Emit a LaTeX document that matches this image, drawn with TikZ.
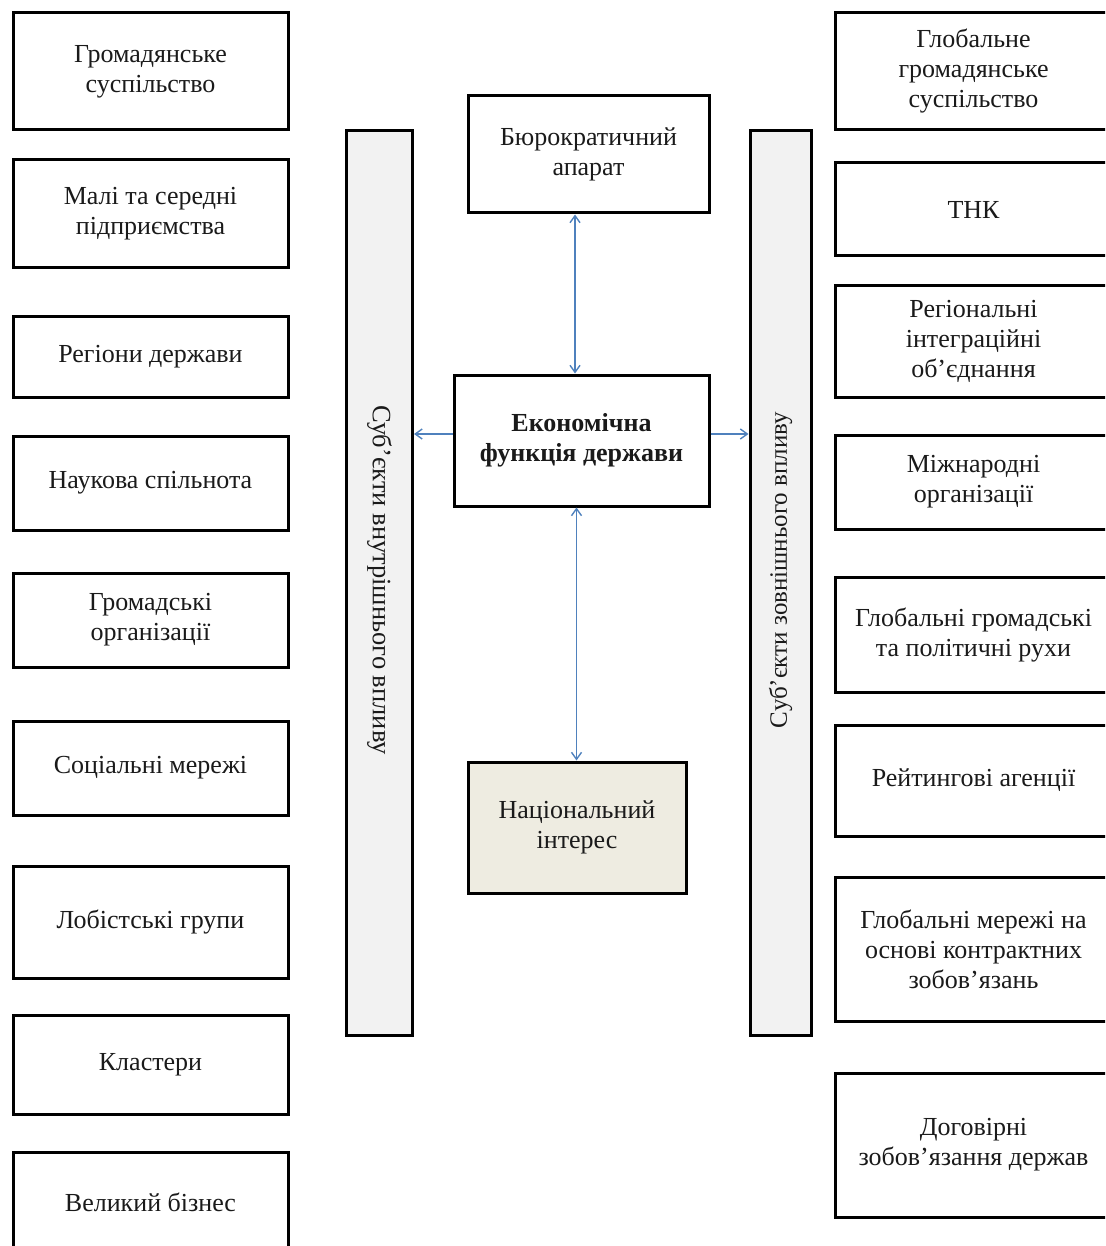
\documentclass[tikz,border=0pt]{standalone}
\usepackage{fontspec}
\setmainfont{Liberation Serif}
\usetikzlibrary{arrows.meta}
\definecolor{barfill}{HTML}{F2F2F2}
\definecolor{natfill}{HTML}{EEECE1}
\definecolor{arrblue}{HTML}{4F81BD}
\definecolor{txt}{HTML}{1A1A1A}
\tikzset{
  box/.style={draw=black, line width=3pt, fill=white, align=center, text=txt,
    font=\fontsize{26}{30}\selectfont, inner sep=0pt},
  leftbox/.style={box, minimum width=275pt},
  rightbox/.style={box, minimum width=277pt},
  bar/.style={draw=black, line width=3pt, fill=barfill, inner sep=0pt},
  bartext/.style={text=txt, inner sep=0pt},
  arr/.style={draw=arrblue, line width=1.4pt, {Straight Barb[length=7pt,width=10pt]}-{Straight Barb[length=7pt,width=10pt]}},
  arrone/.style={draw=arrblue, line width=1.4pt, -{Straight Barb[length=7pt,width=10pt]}}
}
\begin{document}
\begin{tikzpicture}[x=1pt,y=-1pt]
\useasboundingbox (0,0) rectangle (1105,1246);
\clip (0,0) rectangle (1105,1246);
% left column
\node[leftbox, minimum height=117pt] (L1) at (150.5,71.5) {Громадянське\\суспільство};
\node[leftbox, minimum height=108pt] (L2) at (150.5,214) {Малі та середні\\підприємства};
\node[leftbox, minimum height=81pt] (L3) at (150.5,356.5) {Регіони держави};
\node[leftbox, minimum height=94pt] (L4) at (150.5,483) {Наукова спільнота};
\node[leftbox, minimum height=94pt] (L5) at (150.5,620) {Громадські\\організації};
\node[leftbox, minimum height=94pt] (L6) at (150.5,768) {Соціальні мережі};
\node[leftbox, minimum height=112pt] (L7) at (150.5,922) {Лобістські групи};
\node[leftbox, minimum height=99pt] (L8) at (150.5,1064.5) {Кластери};
\node[leftbox, minimum height=100pt] (L9) at (150.5,1202) {Великий бізнес};
% right column
\node[rightbox, minimum height=117pt] (R1) at (973.5,71.5) {Глобальне\\громадянське\\суспільство};
\node[rightbox, minimum height=93pt] (R2) at (973.5,209.5) {ТНК};
\node[rightbox, minimum height=111pt] (R3) at (973.5,341.5) {Регіональні\\інтеграційні\\об’єднання};
\node[rightbox, minimum height=94pt] (R4) at (973.5,482) {Міжнародні\\організації};
\node[rightbox, minimum height=115pt] (R5) at (973.5,635) {Глобальні громадські\\та політичні рухи};
\node[rightbox, minimum height=111pt] (R6) at (973.5,780.5) {Рейтингові агенції};
\node[rightbox, minimum height=144pt] (R7) at (973.5,949) {Глобальні мережі на\\основі контрактних\\зобов’язань};
\node[rightbox, minimum height=144pt] (R8) at (973.5,1145) {Договірні\\зобов’язання держав};
% bars
\node[bar, minimum width=66pt, minimum height=904pt] (LB) at (379.5,583) {};
\node[bartext, rotate=-90, font=\fontsize{26.5}{30}\selectfont] (LBt) at ([yshift=3pt]LB.center) {Суб’єкти внутрішнього впливу};
\node[bar, minimum width=61pt, minimum height=904pt] (RB) at (780.5,583) {};
\node[bartext, rotate=90, font=\fontsize{25}{30}\selectfont] (RBt) at ([yshift=13pt]RB.center) {Суб’єкти зовнішнього впливу};
% centre
\node[box, minimum width=241pt, minimum height=117pt] (B) at (588.5,154.5) {Бюрократичний\\апарат};
\node[box, minimum width=255pt, minimum height=131pt, font=\fontsize{26}{30}\selectfont\bfseries] (E) at (581.5,440.5) {Економічна\\функція держави};
\node[box, fill=natfill, minimum width=218pt, minimum height=131pt] (N) at (577,827.5) {Національний\\інтерес};
% connectors
\draw[arr] ([xshift=-13.5pt]B.south) -- ([xshift=-6.5pt]E.north);
\draw[arr] ([xshift=-5pt]E.south) -- ([xshift=-0.5pt]N.north);
\draw[arrone] ([yshift=6.5pt]E.west) -- ([yshift=6.5pt]E.west -| LB.east);
\draw[arrone] ([yshift=6.5pt]E.east) -- ([yshift=6.5pt]E.east -| RB.west);
\end{tikzpicture}
\end{document}
